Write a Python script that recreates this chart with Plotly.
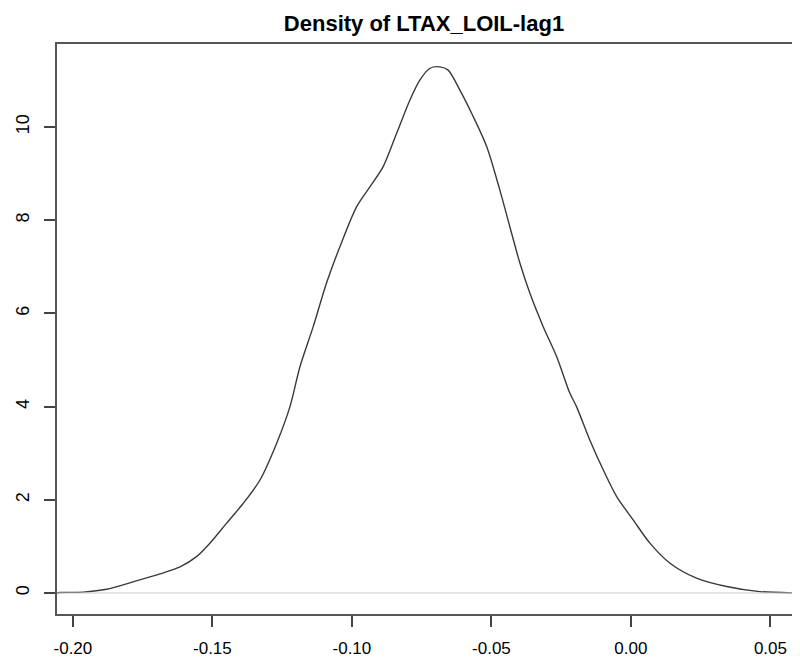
import plotly.graph_objects as go

# Density curve (x value, density)
x_vals = [-0.2057, -0.2047, -0.1963, -0.1879, -0.1784, -0.1688, -0.1616, -0.1557, -0.1509,
          -0.1449, -0.1390, -0.1330, -0.1270, -0.1222, -0.1186, -0.1139, -0.1091, -0.1043,
          -0.0983, -0.0935, -0.0888, -0.0840, -0.0792, -0.0756, -0.0720, -0.0685, -0.0655,
          -0.0613, -0.0565, -0.0517, -0.0470, -0.0434, -0.0398, -0.0362, -0.0314, -0.0266,
          -0.0219, -0.0195, -0.0147, -0.0099, -0.0051, 0.0008, 0.0068, 0.0140, 0.0235,
          0.0343, 0.0462, 0.0606]
density = [0.00, 0.01, 0.02, 0.08, 0.24, 0.41, 0.56, 0.78, 1.07,
           1.50, 1.92, 2.42, 3.21, 4.00, 4.86, 5.71, 6.65, 7.43,
           8.29, 8.72, 9.15, 9.86, 10.58, 11.01, 11.26, 11.29, 11.22,
           10.79, 10.22, 9.58, 8.65, 7.86, 7.08, 6.43, 5.71, 5.07,
           4.29, 4.00, 3.28, 2.64, 2.07, 1.57, 1.07, 0.64, 0.32,
           0.14, 0.03, 0.00]

x_tick_vals = [-0.20, -0.15, -0.10, -0.05, 0.00, 0.05]
x_tick_text = ["-0.20", "-0.15", "-0.10", "-0.05", "0.00", "0.05"]
y_tick_vals = [0, 2, 4, 6, 8, 10]
y_tick_text = ["0", "2", "4", "6", "8", "10"]

title_text = "Density of LTAX_LOIL-lag1"

W, H = 792, 651  # page adds an 8px offset; keeps the chart inside the 800x659 window

fig = go.Figure()
fig.add_trace(go.Scatter(
    x=x_vals, y=density, mode="lines",
    line=dict(color="#3a3a3a", width=1.4, shape="spline", smoothing=0.8),
    showlegend=False, hoverinfo="skip"))

fig.add_hline(y=0, line=dict(color="#cccccc", width=1))

fig.update_layout(
    width=W, height=H,
    margin=dict(l=49, r=0, t=36, b=45, autoexpand=False),
    paper_bgcolor="white", plot_bgcolor="white",
    font=dict(family="Liberation Sans, Arial, sans-serif", color="black"),
    title=dict(text="<b>" + title_text + "</b>", x=416 / W, xref="container",
               y=1 - 15 / H, yanchor="middle", xanchor="center",
               font=dict(size=22, family="Liberation Sans, Arial, sans-serif", color="black")),
    xaxis=dict(range=[-0.2057, 0.0606], tickvals=x_tick_vals, ticktext=x_tick_text,
               automargin=False,
               showgrid=False, zeroline=False, showline=True, linecolor="#555555",
               linewidth=2, mirror=True, ticks="outside", ticklen=11, tickwidth=1.5,
               tickcolor="#444444", tickfont=dict(size=17), ticklabelstandoff=7),
    yaxis=dict(range=[-0.45, 11.78], tickvals=y_tick_vals, ticktext=y_tick_text,
               automargin=False,
               showgrid=False, zeroline=False, showline=True, linecolor="#555555",
               linewidth=2, ticks="outside", ticklen=11, tickwidth=1.5,
               tickcolor="#444444", tickfont=dict(size=18), tickangle=-90,
               ticklabelstandoff=8),
)

fig.write_html("out.html")
